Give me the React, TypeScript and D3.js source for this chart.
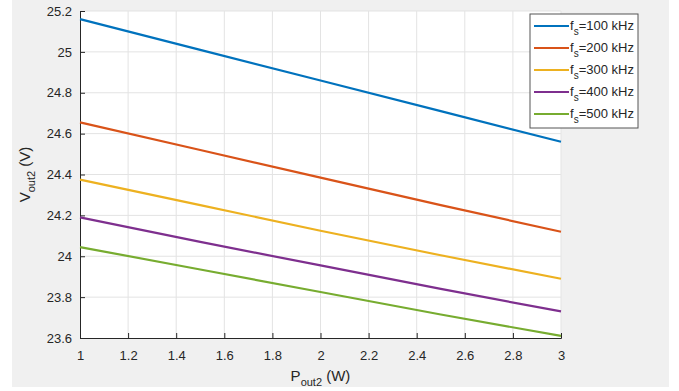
import React, { useEffect, useRef } from "react";
import * as d3 from "d3";

const xValues = [1, 1.5, 2, 2.5, 3];
const seriesNames = ["100", "200", "300", "400", "500"];
const seriesColors = ["#0072bd", "#d95319", "#edb120", "#7e2f8e", "#77ac30"];
const vout100 = [25.16, 25.01, 24.86, 24.71, 24.56];
const vout200 = [24.655, 24.52, 24.385, 24.25, 24.12];
const vout300 = [24.375, 24.25, 24.125, 24.005, 23.89];
const vout400 = [24.19, 24.07, 23.955, 23.84, 23.73];
const vout500 = [24.045, 23.935, 23.825, 23.715, 23.61];
const xTicks = [1, 1.2, 1.4, 1.6, 1.8, 2, 2.2, 2.4, 2.6, 2.8, 3];
const yTicks = [23.6, 23.8, 24, 24.2, 24.4, 24.6, 24.8, 25, 25.2];

const App = () => {
  const svgRef = useRef<SVGSVGElement>(null);

  useEffect(() => {
    const W = 679, H = 391;
    const margin = { top: 11, right: 118, bottom: 53, left: 80 };
    const width = W - margin.left - margin.right;
    const height = H - margin.top - margin.bottom;
    const font = "'Liberation Sans', Arial, sans-serif";
    const textColor = "#262626";

    const svg = d3.select(svgRef.current);
    svg.selectAll("*").remove();
    svg.attr("width", W).attr("height", H);

    svg.append("rect").attr("x", 12).attr("y", 0).attr("width", 657).attr("height", 387).attr("fill", "#f0f0f0");

    const chart = svg.append("g").attr("transform", `translate(${margin.left},${margin.top})`);
    chart.append("rect").attr("width", width).attr("height", height).attr("fill", "#ffffff");

    const x = d3.scaleLinear().domain([1, 3]).range([0, width]);
    const y = d3.scaleLinear().domain([23.6, 25.2]).range([height, 0]);

    // grid
    chart.selectAll(".gx").data(xTicks.slice(1)).enter().append("line")
      .attr("x1", d => x(d)).attr("x2", d => x(d)).attr("y1", 0).attr("y2", height)
      .attr("stroke", "#e3e3e3").attr("stroke-width", 1);
    chart.selectAll(".gy").data(yTicks.slice(1)).enter().append("line")
      .attr("x1", 0).attr("x2", width).attr("y1", d => y(d)).attr("y2", d => y(d))
      .attr("stroke", "#e3e3e3").attr("stroke-width", 1);

    // axes
    const xAxis = chart.append("g").attr("transform", `translate(0,${height})`)
      .call(d3.axisBottom(x).tickValues(xTicks).tickSize(-5).tickPadding(13).tickFormat(d => String(d)));
    const yAxis = chart.append("g")
      .call(d3.axisLeft(y).tickValues(yTicks).tickSize(-5).tickPadding(8).tickFormat(d => String(d)));
    [xAxis, yAxis].forEach(a => {
      a.select(".domain").attr("stroke", textColor).attr("stroke-width", 1);
      a.selectAll(".tick line").attr("stroke", textColor);
      a.selectAll("text").attr("fill", textColor).style("font-family", font).style("font-size", "13px");
    });

    // lines
    const allSeries = [vout100, vout200, vout300, vout400, vout500];
    const line = d3.line<number>().x((d, i) => x(xValues[i])).y(d => y(d));
    allSeries.forEach((s, i) => {
      chart.append("path").datum(s).attr("d", line).attr("fill", "none")
        .attr("stroke", seriesColors[i]).attr("stroke-width", 2.2);
    });

    // axis labels
    const xl = chart.append("text").attr("x", width / 2).attr("y", height + 43)
      .attr("text-anchor", "middle").attr("fill", textColor)
      .style("font-family", font).style("font-size", "15px");
    xl.append("tspan").text("P");
    xl.append("tspan").attr("dy", 5).style("font-size", "11px").text("out2");
    xl.append("tspan").attr("dy", -5).text(" (W)");

    const yl = chart.append("text").attr("transform", `translate(-50,${height / 2}) rotate(-90)`)
      .attr("text-anchor", "middle").attr("fill", textColor)
      .style("font-family", font).style("font-size", "15px");
    yl.append("tspan").text("V");
    yl.append("tspan").attr("dy", 5).style("font-size", "11px").text("out2");
    yl.append("tspan").attr("dy", -5).text(" (V)");

    // legend
    const legend = svg.append("g").attr("transform", "translate(530,14)");
    legend.append("rect").attr("width", 108).attr("height", 114)
      .attr("fill", "#ffffff").attr("stroke", "#555555").attr("stroke-width", 1);
    seriesNames.forEach((n, i) => {
      const ry = 12 + i * 22;
      legend.append("line").attr("x1", 4).attr("x2", 39).attr("y1", ry).attr("y2", ry)
        .attr("stroke", seriesColors[i]).attr("stroke-width", 2.2);
      const t = legend.append("text").attr("x", 40).attr("y", ry + 4).attr("fill", textColor)
        .style("font-family", font).style("font-size", "13px");
      t.append("tspan").text("f");
      t.append("tspan").attr("dy", 5).style("font-size", "10px").text("s");
      t.append("tspan").attr("dy", -5).text(`=${n} kHz`);
    });
  }, []);

  return (
    <div style={{ position: "fixed", left: 0, top: 0, background: "#ffffff" }}>
      <svg ref={svgRef} style={{ display: "block" }}></svg>
    </div>
  );
};

export default App;
